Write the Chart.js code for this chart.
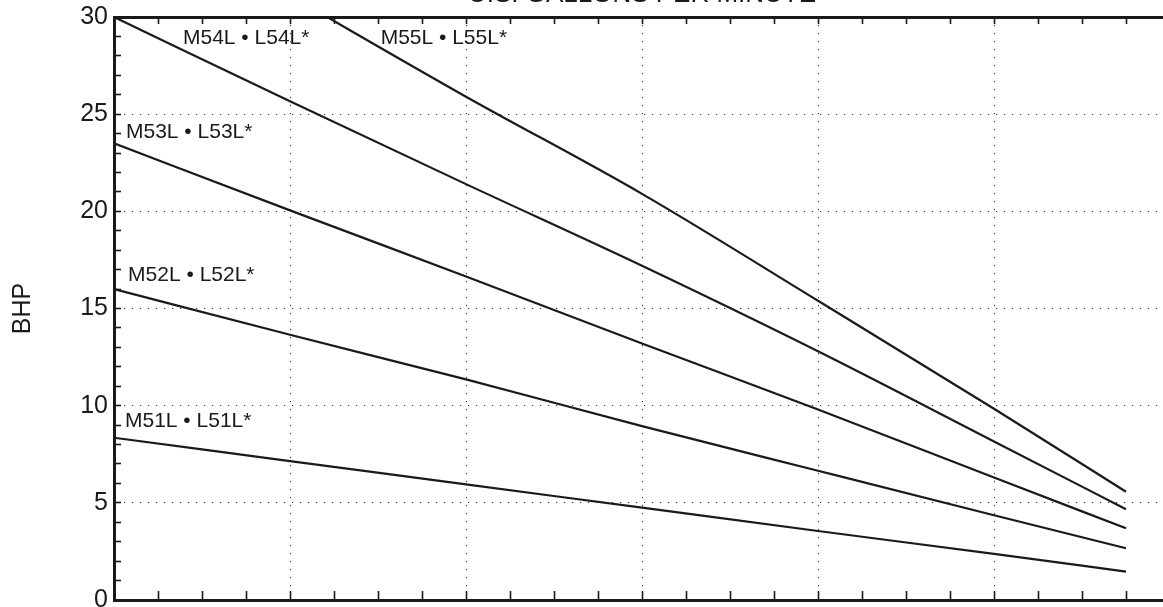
<!DOCTYPE html>
<html>
<head>
<meta charset="utf-8">
<script src="https://cdn.jsdelivr.net/npm/chart.js@4/dist/chart.umd.min.js"></script>
<style>
  html, body { margin: 0; padding: 0; background: #fff; overflow: hidden; width: 1163px; height: 607px; }
  #wrap { position: absolute; left: 0; top: -30px; width: 1200px; height: 670px; }
  canvas { display: block; }
</style>
</head>
<body>
<div id="wrap"><canvas id="c" width="1200" height="670"></canvas></div>
<script>
// ---- data ----
const gpm = [0, 20, 40, 60, 80, 100, 115];
const m51 = [8.35, 7.15, 5.95, 4.75, 3.55, 2.37, 1.46];
const m52 = [16.0, 13.65, 11.35, 8.95, 6.65, 4.36, 2.66];
const m53 = [23.5, 20.05, 16.65, 13.2, 9.8, 6.3, 3.69];
const m54 = [30.0, 25.66, 21.4, 17.2, 12.8, 8.16, 4.67];
const m55 = [36.3, 31.1, 25.9, 20.9, 15.4, 9.84, 5.57];
const seriesNames = ['M51L • L51L*', 'M52L • L52L*', 'M53L • L53L*', 'M54L • L54L*', 'M55L • L55L*'];
const seriesValues = [m51, m52, m53, m54, m55];
const xTitle = 'U.S. GALLONS PER MINUTE';
const yTitle = 'BHP';
const xMin = 0, xMax = 120, xStep = 5, xGridStep = 20;
const yMin = 0, yMax = 30, yStep = 1, yLabelStep = 5;

// label anchor positions (data coordinates, left edge / vertical middle)
const labelGpm = [1.25, 1.6, 1.36, 7.84, 30.3];
const labelBhp = [9.19, 16.7, 24.06, 28.9, 28.9];

const FONT = '"Liberation Sans", Arial, Helvetica, sans-serif';
const INK = '#1a1a1a';
const GRID = '#333';

const datasets = seriesValues.map((vals, i) => ({
  label: seriesNames[i],
  data: gpm.map((g, j) => ({ x: g, y: vals[j] })),
  borderColor: INK,
  borderWidth: 2.2,
  pointRadius: 0,
  fill: false,
  cubicInterpolationMode: 'monotone',
  xAxisID: 'x',
  yAxisID: 'y'
}));

const seriesLabelPlugin = {
  id: 'seriesLabels',
  afterDatasetsDraw(chart) {
    const { ctx, scales } = chart;
    ctx.save();
    ctx.font = '21px ' + FONT;
    ctx.fillStyle = INK;
    ctx.textAlign = 'left';
    ctx.textBaseline = 'middle';
    seriesNames.forEach((name, i) => {
      const px = scales.x.getPixelForValue(labelGpm[i]);
      const py = scales.y.getPixelForValue(labelBhp[i]);
      ctx.fillText(name, px, py);
    });
    ctx.restore();
  }
};

const gridColorX = c => (c.tick && c.tick.value % xGridStep === 0 && c.tick.value > xMin && c.tick.value < xMax) ? GRID : 'rgba(0,0,0,0)';
const gridColorY = c => (c.tick && c.tick.value % yLabelStep === 0 && c.tick.value > yMin && c.tick.value < yMax) ? GRID : 'rgba(0,0,0,0)';

new Chart(document.getElementById('c'), {
  type: 'line',
  data: { datasets },
  plugins: [seriesLabelPlugin],
  options: {
    responsive: false,
    animation: false,
    devicePixelRatio: 1,
    layout: { padding: 0 },
    plugins: { legend: { display: false }, tooltip: { enabled: false }, title: { display: false } },
    scales: {
      x: {
        type: 'linear', position: 'bottom', min: xMin, max: xMax,
        ticks: { stepSize: xStep, display: false, autoSkip: false },
        grid: { color: gridColorX, lineWidth: 1, tickLength: -9, tickColor: INK, tickWidth: 1.6 },
        border: { display: true, color: INK, width: 3, dash: [1.2, 6.8] },
        afterFit: s => { s.height = 40; }
      },
      x2: {
        type: 'linear', position: 'top', min: xMin, max: xMax,
        ticks: { stepSize: xStep, display: false, autoSkip: false },
        grid: { drawOnChartArea: false, tickLength: -7, tickColor: INK, tickWidth: 1.6 },
        border: { display: true, color: INK, width: 3 },
        title: { display: true, text: xTitle, color: INK, font: { size: 26, family: FONT }, padding: { top: 9, bottom: 0 } },
        afterFit: s => { s.height = 47; }
      },
      y: {
        type: 'linear', position: 'left', min: yMin, max: yMax,
        ticks: {
          stepSize: yStep, autoSkip: false, padding: 13, color: INK,
          font: { size: 25, family: FONT },
          callback: v => (v % yLabelStep === 0 ? String(v) : '')
        },
        grid: { color: gridColorY, lineWidth: 1, tickLength: -7, tickColor: INK, tickWidth: 1.6 },
        border: { display: true, color: INK, width: 3, dash: [1.2, 6.8] },
        title: { display: true, text: yTitle, color: INK, font: { size: 25, family: FONT }, padding: { top: 8, bottom: 0 } },
        afterFit: s => { s.width = 114; }
      },
      y2: {
        type: 'linear', position: 'right', min: yMin, max: yMax,
        ticks: { stepSize: yStep, display: false, autoSkip: false },
        grid: { drawOnChartArea: false, tickLength: -7, tickColor: INK, tickWidth: 1.6 },
        border: { display: true, color: INK, width: 3 },
        afterFit: s => { s.width = 30; }
      }
    }
  }
});
</script>
</body>
</html>
